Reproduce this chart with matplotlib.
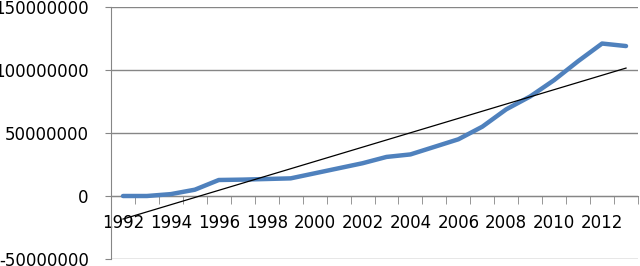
import matplotlib.pyplot as plt
import numpy as np

# 年份与数值
years = list(range(1992, 2014))
values = [0, 0, 1.5e6, 5e6, 12.7e6, 13e6, 13.5e6, 14e6, 18e6, 22e6, 26e6,
          31e6, 33e6, 39e6, 45e6, 55e6, 68.8e6, 79e6, 92e6, 107e6, 121e6, 119e6]
yticks = [-50000000, 0, 50000000, 100000000, 150000000]

grid_color = '#868686'
line_color = '#4F81BD'

plt.rcParams['font.family'] = ['DejaVu Sans']

fig = plt.figure(figsize=(6.4, 2.66), dpi=100)
ax = fig.add_axes([111 / 640, 1 - 259 / 266, 527 / 640, 252 / 266])

x = np.arange(len(years))
ax.plot(x, values, color=line_color, linewidth=3.2, solid_capstyle='round', zorder=3)

# 线性趋势线
k, b = np.polyfit(x, values, 1)
ax.plot(x, k * x + b, color='black', linewidth=0.9, zorder=4)

ax.set_xlim(-0.5, len(years) - 0.5)
ax.set_ylim(yticks[0], yticks[-1])
ax.set_yticks(yticks)
ax.set_yticklabels([str(v) for v in yticks], fontsize=12)
ax.yaxis.grid(True, color=grid_color, linewidth=1)
ax.set_axisbelow(True)

ax.spines['bottom'].set_position(('data', 0))
ax.spines['bottom'].set_color(grid_color)
ax.spines['left'].set_color(grid_color)
ax.spines['top'].set_visible(False)
ax.spines['right'].set_visible(False)

ax.set_xticks(x[::2])
ax.set_xticklabels([str(y) for y in years[::2]], fontsize=12)
ax.set_xticks(np.arange(-0.5, len(years)), minor=True)
ax.tick_params(axis='x', which='major', length=0, pad=13)
ax.tick_params(axis='x', which='minor', length=6, color=grid_color, direction='out')
ax.tick_params(axis='y', length=4, color=grid_color, pad=12)

for label in ax.get_xticklabels():
    label.set_zorder(5)

fig.savefig('out.png', dpi=100)
